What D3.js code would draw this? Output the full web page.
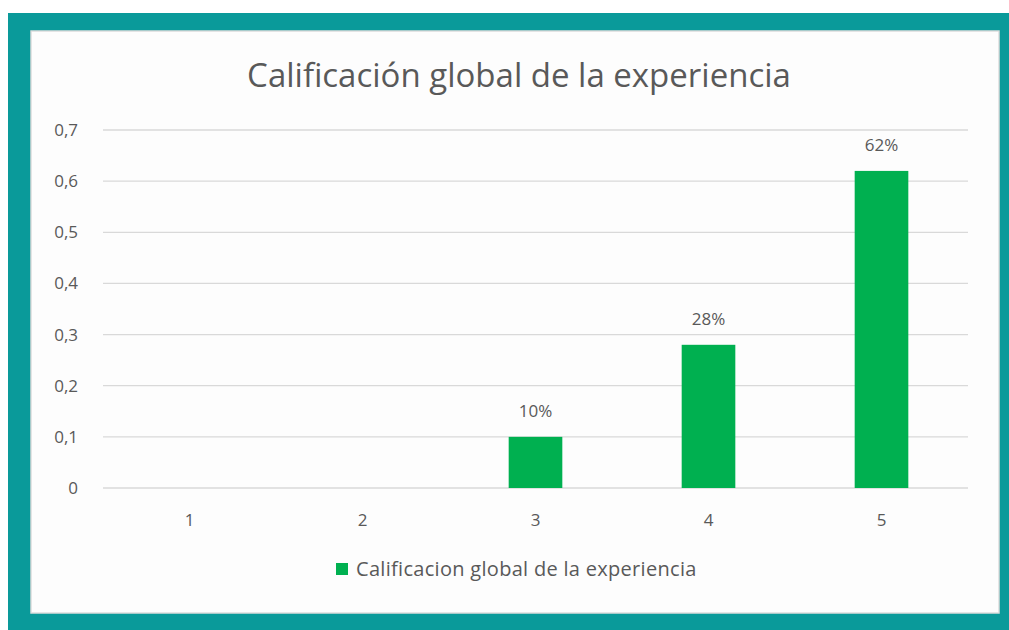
<!DOCTYPE html>
<html>
<head>
<meta charset="utf-8">
<title>Calificación global de la experiencia</title>
<style>
  body { margin: 0; background: #0a9a9a; }
  svg { display: block; font-family: "Open Sans", "Noto Sans", sans-serif; }
</style>
<script src="https://cdn.jsdelivr.net/npm/d3@7"></script>
</head>
<body>
<svg width="1009" height="630"></svg>
<script>
// data
const categories = ["1", "2", "3", "4", "5"];
const values = [0, 0, 0.10, 0.28, 0.62];
const yTicks = [0, 0.1, 0.2, 0.3, 0.4, 0.5, 0.6, 0.7];
const seriesName = "Calificacion global de la experiencia";
const title = "Calificación global de la experiencia";

const svg = d3.select("svg");
const grey = "#595959";

// teal frame + white panel
svg.append("rect").attr("width", 1009).attr("height", 630).attr("fill", "#0a9a9a");
svg.append("rect").attr("x", 0).attr("y", 0).attr("width", 1009).attr("height", 13).attr("fill", "#fff");
svg.append("rect").attr("x", 0).attr("y", 0).attr("width", 8).attr("height", 630).attr("fill", "#fff");
svg.append("rect").attr("x", 31).attr("y", 31).attr("width", 968).attr("height", 582)
  .attr("fill", "#fdfdfd").attr("stroke", "#dcdcdc").attr("stroke-width", 1.5);

const x = d3.scaleBand().domain(categories).range([103, 968]).paddingInner(0.69).paddingOuter(0.345);
const y = d3.scaleLinear().domain([0, 0.7]).range([488, 130]);

// gridlines
svg.append("g").selectAll("line").data(yTicks).join("line")
  .attr("x1", 103).attr("x2", 968)
  .attr("y1", d => y(d)).attr("y2", d => y(d))
  .attr("stroke", "#d9d9d9").attr("stroke-width", 1.3);

// y axis labels
const fmt = d => d === 0 ? "0" : d3.format(".1f")(d).replace(".", ",");
svg.append("g").selectAll("text").data(yTicks).join("text")
  .attr("x", 78).attr("y", d => y(d)).attr("dy", "0.35em")
  .attr("text-anchor", "end").attr("fill", grey).attr("font-size", 17)
  .text(fmt);

// x axis labels
svg.append("g").selectAll("text").data(categories).join("text")
  .attr("x", d => x(d) + x.bandwidth() / 2).attr("y", 520).attr("dy", "0.35em")
  .attr("text-anchor", "middle").attr("fill", grey).attr("font-size", 17)
  .text(d => d);

// bars
const data = categories.map((c, i) => ({ c, v: values[i] }));
svg.append("g").selectAll("rect").data(data.filter(d => d.v > 0)).join("rect")
  .attr("x", d => x(d.c)).attr("width", x.bandwidth())
  .attr("y", d => y(d.v)).attr("height", d => y(0) - y(d.v))
  .attr("fill", "#00b050");

// data labels
svg.append("g").selectAll("text").data(data.filter(d => d.v > 0)).join("text")
  .attr("x", d => x(d.c) + x.bandwidth() / 2).attr("y", d => y(d.v) - 26).attr("dy", "0.35em")
  .attr("text-anchor", "middle").attr("fill", grey).attr("font-size", 17)
  .text(d => Math.round(d.v * 100) + "%");

// title
svg.append("text").attr("x", 519).attr("y", 75).attr("dy", "0.35em")
  .attr("text-anchor", "middle").attr("fill", grey).attr("font-size", 33)
  .text(title);

// legend
svg.append("rect").attr("x", 336).attr("y", 563).attr("width", 12).attr("height", 12).attr("fill", "#00b050");
svg.append("text").attr("x", 356).attr("y", 569).attr("dy", "0.35em")
  .attr("fill", grey).attr("font-size", 20).attr("letter-spacing", 0.3).text(seriesName);
</script>
</body>
</html>
